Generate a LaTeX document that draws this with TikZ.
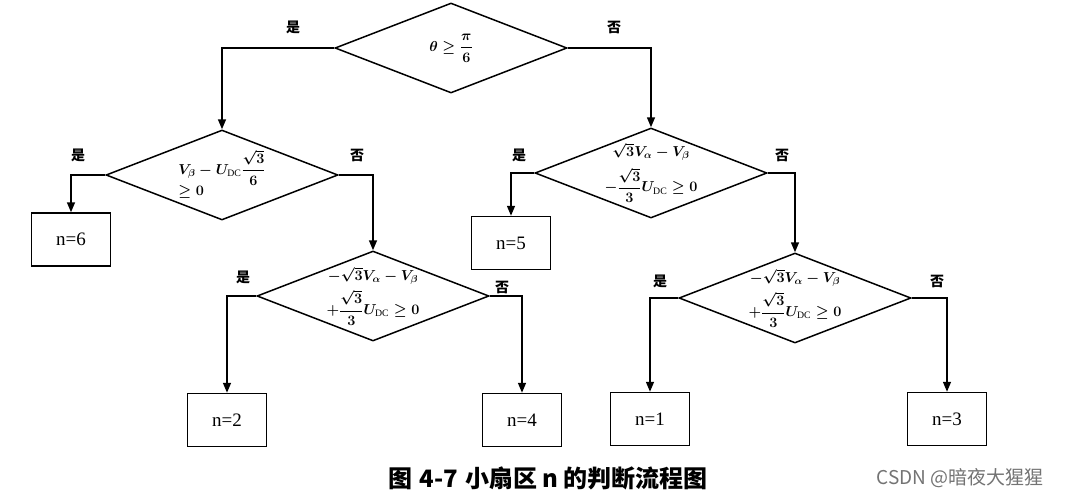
\documentclass[tikz,border=0pt]{standalone}
\usepackage{amsmath, amssymb}
\usepackage{fontspec}
\setmainfont{Liberation Serif}
\newfontfamily\cjk{Noto Sans CJK SC}
\usetikzlibrary{shapes.geometric, arrows.meta}

\begin{document}
\begin{tikzpicture}[x=1pt,y=-1pt,
    diam/.style={draw, diamond, line width=1.5pt, aspect=2.6, inner sep=-8pt,
      minimum width=232pt, minimum height=90pt, align=center,
      font=\fontsize{14}{16}\selectfont\mathversion{bold}},
    result/.style={draw, line width=1.5pt, minimum width=79pt, minimum height=53pt,
      inner sep=0pt, font=\fontsize{19}{22}\selectfont},
    yn/.style={font=\cjk\fontsize{14}{16}\selectfont\bfseries, inner sep=0.75pt},
    flow/.style={line width=1.5pt, -{Triangle[length=10pt,width=8pt]}}]
  \useasboundingbox (0,0) rectangle (1068,501);

  %Shape: Diamond [theta]
  \node [diam] (d1) at (451,48) {$\theta \geq \dfrac{\pi}{6}$};
  %Shape: Diamond [left]
  \node [diam] (d2) at (222,175) {\begin{tabular}{@{}l@{}}$V_{\beta}-U_{\textnormal{DC}}\dfrac{\sqrt{3}}{6}$\\[-1pt] $\geq 0$\end{tabular}};
  %Shape: Diamond [right]
  \node [diam] (d3) at (651,173) {$\sqrt{3}V_{\alpha}-V_{\beta}$\\[6pt] $-\dfrac{\sqrt{3}}{3}U_{\textnormal{DC}}\geq 0$};
  %Shape: Diamond [left lower]
  \node [diam] (d4) at (373,296) {$-\sqrt{3}V_{\alpha}-V_{\beta}$\\[5pt] $+\dfrac{\sqrt{3}}{3}U_{\textnormal{DC}}\geq 0$};
  %Shape: Diamond [right lower]
  \node [diam] (d5) at (795,298) {$-\sqrt{3}V_{\alpha}-V_{\beta}$\\[5pt] $+\dfrac{\sqrt{3}}{3}U_{\textnormal{DC}}\geq 0$};

  %Shape: Rectangle [results]
  \node [result] (n6) at (71,239.5) {n=6};
  \node [result] (n5) at (511,243) {n=5};
  \node [result] (n2) at (227,420) {n=2};
  \node [result] (n4) at (522,420) {n=4};
  \node [result] (n1) at (650,419) {n=1};
  \node [result] (n3) at (947,419) {n=3};

  %Straight Lines [branches]
  \draw [flow] (d1.west) -| (d2.north);
  \draw [flow] (d1.east) -| (d3.north);
  \draw [flow] (d2.west) -| (n6.north);
  \draw [flow] (d2.east) -| (d4.north);
  \draw [flow] (d3.west) -| (n5.north);
  \draw [flow] (d3.east) -| (d5.north);
  \draw [flow] (d4.west) -| (n2.north);
  \draw [flow] (d4.east) -| (n4.north);
  \draw [flow] (d5.west) -| (n1.north);
  \draw [flow] (d5.east) -| (n3.north);

  % Text Node
  \node [yn] (y1) at (293,27) {是};
  \node [yn] (f1) at (614,27) {否};
  \node [yn] (y2) at (78,155) {是};
  \node [yn] (f2) at (357,155) {否};
  \node [yn] (y3) at (519,155) {是};
  \node [yn] (f3) at (782,155) {否};
  \node [yn] (y4) at (243,277) {是};
  \node [yn] (f4) at (502,287) {否};
  \node [yn] (y5) at (660,281) {是};
  \node [yn] (f5) at (937,281) {否};

  % Text Node
  \node [font=\cjk\fontsize{24}{26}\selectfont\bfseries] (cap) at (548,478) {图\hspace{7pt}4-7\hspace{7pt}小扇区\hspace{5pt}n\hspace{5pt}的判断流程图};
  \node [font=\cjk\fontsize{19}{21}\selectfont, color=black!55] (mark) at (960,478) {CSDN @暗夜大猩猩};

\end{tikzpicture}
\end{document}
